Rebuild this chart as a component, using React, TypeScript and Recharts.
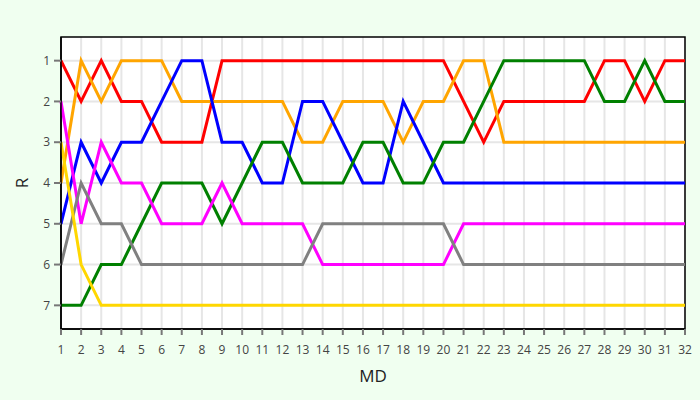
import React from 'react';
import { LineChart, Line, XAxis, YAxis, CartesianGrid, Label, ReferenceArea } from 'recharts';

const matchdays = [1,2,3,4,5,6,7,8,9,10,11,12,13,14,15,16,17,18,19,20,21,22,23,24,25,26,27,28,29,30,31,32];
const rankTicks = [1,2,3,4,5,6,7];

const redRanks =     [1,2,1,2,2,3,3,3,1,1,1,1,1,1,1,1,1,1,1,1,2,3,2,2,2,2,2,1,1,2,1,1];
const orangeRanks =  [4,1,2,1,1,1,2,2,2,2,2,2,3,3,2,2,2,3,2,2,1,1,3,3,3,3,3,3,3,3,3,3];
const blueRanks =    [5,3,4,3,3,2,1,1,3,3,4,4,2,2,3,4,4,2,3,4,4,4,4,4,4,4,4,4,4,4,4,4];
const greenRanks =   [7,7,6,6,5,4,4,4,5,4,3,3,4,4,4,3,3,4,4,3,3,2,1,1,1,1,1,2,2,1,2,2];
const magentaRanks = [2,5,3,4,4,5,5,5,4,5,5,5,5,6,6,6,6,6,6,6,5,5,5,5,5,5,5,5,5,5,5,5];
const grayRanks =    [6,4,5,5,6,6,6,6,6,6,6,6,6,5,5,5,5,5,5,5,6,6,6,6,6,6,6,6,6,6,6,6];
const goldRanks =    [3,6,7,7,7,7,7,7,7,7,7,7,7,7,7,7,7,7,7,7,7,7,7,7,7,7,7,7,7,7,7,7];

const seriesList = [
  { key: 'red', color: '#ff0000', values: redRanks },
  { key: 'orange', color: '#ffa500', values: orangeRanks },
  { key: 'blue', color: '#0000ff', values: blueRanks },
  { key: 'green', color: '#008000', values: greenRanks },
  { key: 'magenta', color: '#ff00ff', values: magentaRanks },
  { key: 'gray', color: '#808080', values: grayRanks },
  { key: 'gold', color: '#ffd700', values: goldRanks },
];

const data = matchdays.map((md, i) => {
  const row: Record<string, number> = { md };
  seriesList.forEach((s) => { row[s.key] = s.values[i]; });
  return row;
});

const font = '"Open Sans", "Noto Sans", sans-serif';
const yDomain: [number, number] = [0.42, 7.58];

export default function App() {
  return (
    <div style={{ position: 'fixed', left: 0, top: 0, width: 700, height: 400, background: '#f0fff0', fontFamily: font }}>
      <LineChart width={700} height={400} data={data} margin={{ top: 37, right: 15, left: 0, bottom: 0 }}>
        <CartesianGrid fill="#ffffff" stroke="#e6e6e6" strokeWidth={2} horizontalValues={rankTicks} verticalValues={matchdays} />
        <XAxis
          dataKey="md"
          type="number"
          domain={[1, 32]}
          ticks={matchdays}
          interval={0}
          height={71}
          axisLine={{ stroke: '#000', strokeWidth: 1.5 }}
          tickLine={{ stroke: '#777', strokeWidth: 2 }}
          tickSize={6}
          tickMargin={10}
          tick={{ fill: '#444', fontSize: 12, fontFamily: font }}
        >
          <Label value="MD" position="insideBottom" offset={18} style={{ fill: '#222', fontSize: 17, fontFamily: font }} />
        </XAxis>
        <YAxis
          type="number"
          reversed
          domain={yDomain}
          ticks={rankTicks}
          interval={0}
          width={61}
          axisLine={{ stroke: '#000', strokeWidth: 1.5 }}
          tickLine={{ stroke: '#777', strokeWidth: 2 }}
          tickSize={7}
          tickMargin={4}
          tick={{ fill: '#444', fontSize: 12, fontFamily: font }}
        >
          <Label value="R" angle={-90} position="insideLeft" offset={22} style={{ fill: '#222', fontSize: 17, fontFamily: font, textAnchor: 'middle' }} />
        </YAxis>
        {seriesList.map((s) => (
          <Line
            key={s.key}
            type="linear"
            dataKey={s.key}
            stroke={s.color}
            strokeWidth={3}
            dot={false}
            activeDot={false}
            isAnimationActive={false}
          />
        ))}
        <ReferenceArea x1={1} x2={32} y1={yDomain[0]} y2={yDomain[1]} fill="none" fillOpacity={0} stroke="#000" strokeWidth={1.5} ifOverflow="visible" />
      </LineChart>
    </div>
  );
}
